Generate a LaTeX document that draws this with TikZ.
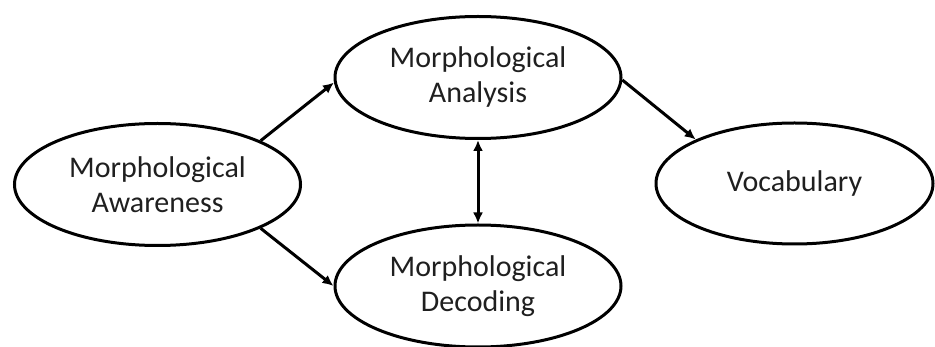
\documentclass[tikz,border=0pt]{standalone}
\usepackage{fontspec}
\setmainfont{Carlito}
\usetikzlibrary{shapes.geometric,arrows.meta}

\tikzset{
  concept/.style={ellipse, draw=black, line width=3pt, inner sep=0pt,
    minimum width=286pt, minimum height=122pt, align=center,
    font=\fontsize{30pt}{35pt}\selectfont, text=black!88},
  link/.style={line width=3pt, -{Latex[length=11pt,width=10pt]}},
  mutual/.style={line width=3pt, {Latex[length=11pt,width=10pt]}-{Latex[length=11pt,width=10pt]}}
}

\begin{document}
\begin{tikzpicture}[x=1pt, y=-1pt]
  \useasboundingbox (0,0) rectangle (935,347);

  \node[concept] (aw) at (157.5,184.5) {Morphological\\Awareness};
  \node[concept] (an) at (478,77.5) {Morphological\\Analysis};
  \node[concept] (de) at (478,286) {Morphological\\Decoding};
  \node[concept, minimum width=277pt, minimum height=121pt] (vo) at (794.5,183.5) {Vocabulary};

  \draw[link] (aw.23) -- (an.182);
  \draw[link] (aw.-23) -- (de.180);
  \draw[link] (an.-1) -- (vo.156);
  \draw[mutual] (an.south) -- (de.north);
\end{tikzpicture}
\end{document}
